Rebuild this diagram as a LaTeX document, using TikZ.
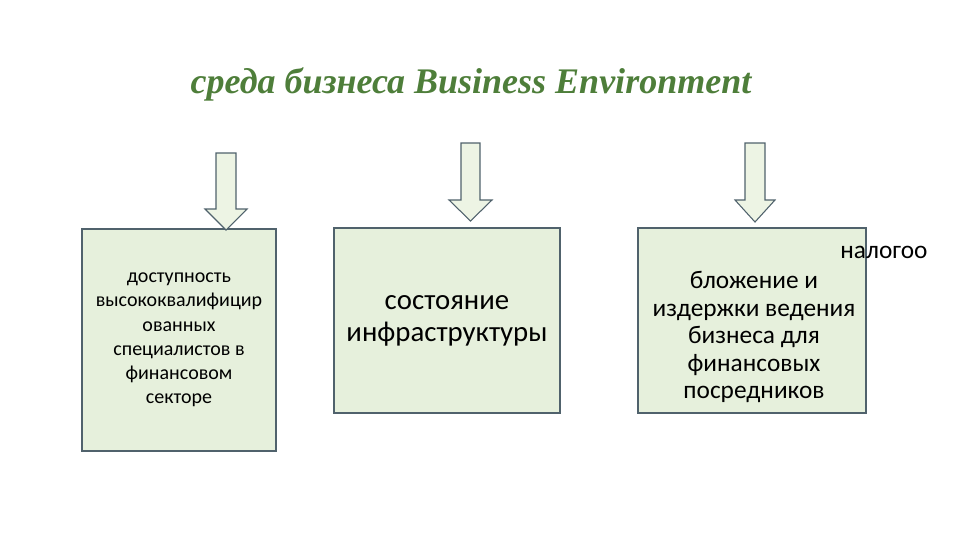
\documentclass[tikz,border=0pt]{standalone}
\usepackage{fontspec}
\setmainfont{Carlito}
\newfontfamily\titlefont{Liberation Serif}
\definecolor{boxfill}{HTML}{E6F0DC}
\definecolor{boxline}{HTML}{50626C}
\definecolor{arrfill}{HTML}{EDF4E4}
\definecolor{titlegreen}{HTML}{4E7E3A}
\tikzset{
  infobox/.style={draw=boxline, line width=0.9pt, fill=boxfill},
  downarrow/.style={draw=boxline, line width=0.8pt, fill=arrfill, line join=miter},
  boxtext/.style={align=center, text=black, inner sep=0pt}
}
\begin{document}
\begin{tikzpicture}[x=0.75pt,y=-0.75pt]
\useasboundingbox (0,0) rectangle (960,540);
% title
\node[anchor=base, text=titlegreen, inner sep=0pt] (title) at (471,93)
  {\titlefont\fontsize{27}{31}\selectfont\bfseries\itshape среда бизнеса Business Environment};
% boxes
\draw[infobox] (82,229) rectangle (276,451);
\draw[infobox] (334,228) rectangle (560,413);
\draw[infobox] (638,228) rectangle (866,413);
% arrows
\draw[downarrow] (216,153) -- (236,153) -- (236,209) -- (247,209) -- (226,230) -- (205,209) -- (216,209) -- cycle;
\draw[downarrow] (461,143) -- (480,143) -- (480,200) -- (492,200) -- (470.5,221) -- (449,200) -- (461,200) -- cycle;
\draw[downarrow] (745,143) -- (765,143) -- (765,200) -- (775,200) -- (755,222) -- (735,200) -- (745,200) -- cycle;
% texts
\node[boxtext, font=\fontsize{15}{18.2}\selectfont] (t1) at (179,340)
  {доступность\\высококвалифицир\\ованных\\специалистов в\\финансовом\\секторе};
\node[boxtext, font=\fontsize{21.6}{24}\selectfont] (t2) at (447,321)
  {состояние\\инфраструктуры};
\node[boxtext, font=\fontsize{19}{20.6}\selectfont] (t3) at (754,337)
  {бложение и\\издержки ведения\\бизнеса для\\финансовых\\посредников};
\node[boxtext, anchor=base, font=\fontsize{19}{20.6}\selectfont] (t4) at (884,258) {налогоо};
\end{tikzpicture}
\end{document}
